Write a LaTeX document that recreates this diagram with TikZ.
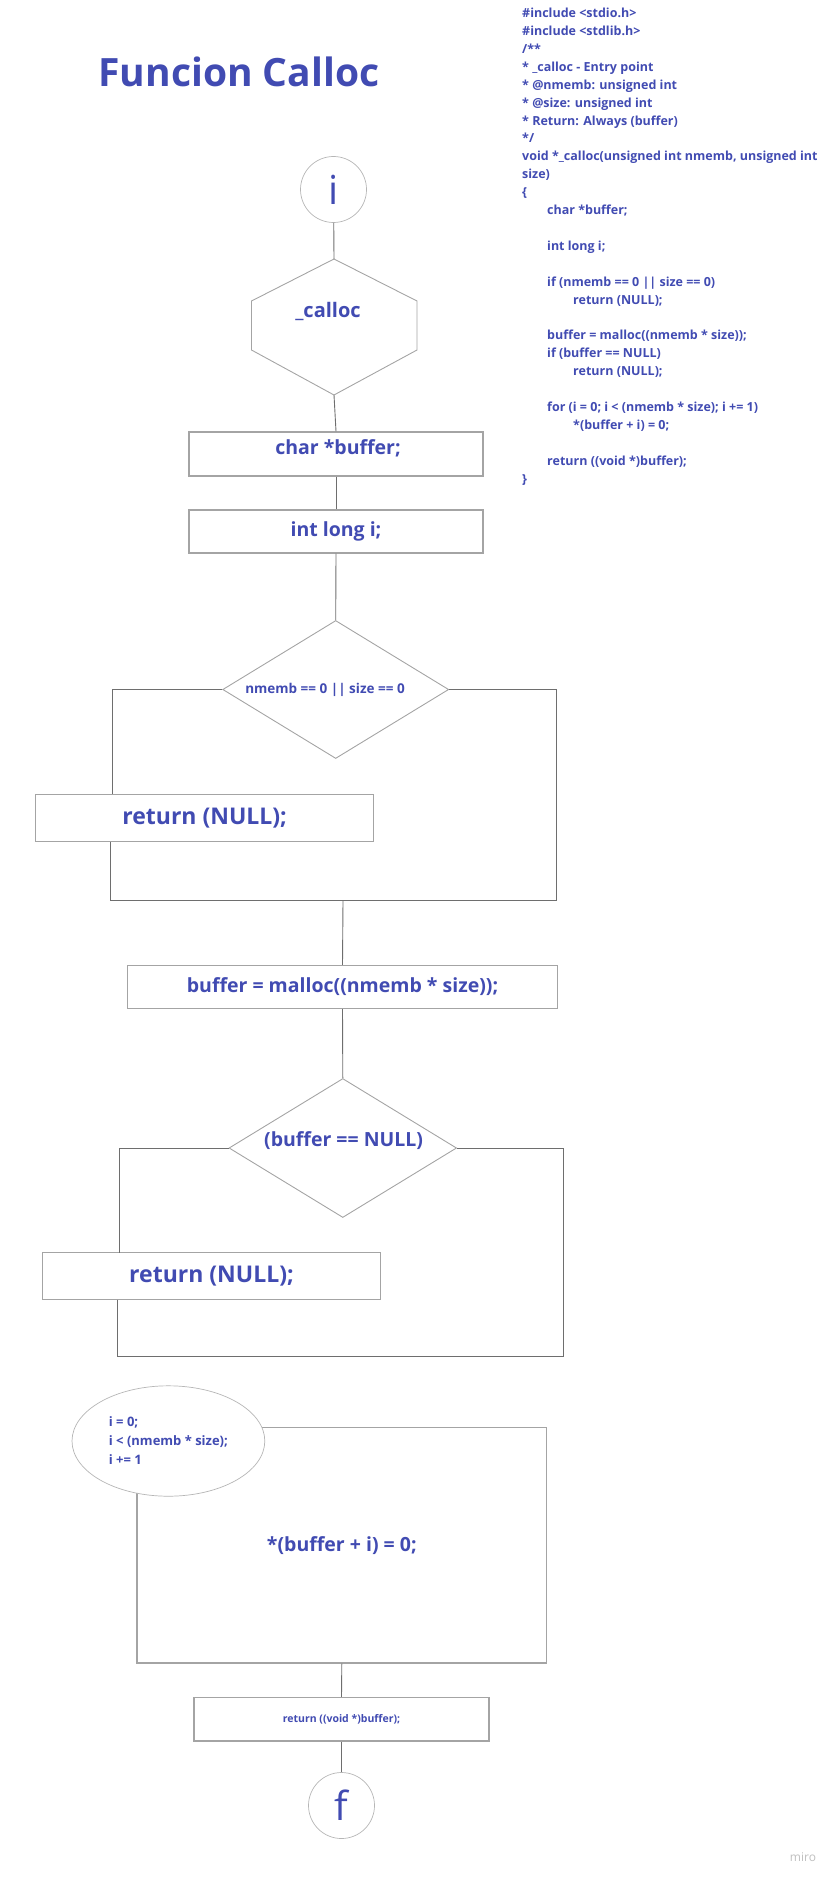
\documentclass[tikz,border=0pt]{standalone}
\usepackage{fontspec}
\setmainfont{Open Sans}
\usetikzlibrary{shapes.geometric}
\definecolor{ink}{HTML}{414BB2}
\definecolor{shapeline}{HTML}{A4A4A4}
\definecolor{conline}{HTML}{6E6E6E}
\tikzset{
  box/.style={draw=shapeline, line width=1.3pt, fill=white, inner sep=0pt},
  conn/.style={draw=conline, line width=0.9pt},
  txt/.style={text=ink, font=\bfseries, inner sep=0pt},
  codetxt/.style={text=ink, font=\bfseries\fontsize{12.5}{17.9}\selectfont, inner sep=0pt, anchor=north west, align=left},
  termin/.style={draw=shapeline!80, line width=0.7pt, circle, inner sep=0pt, minimum size=66pt, text=ink, font=\fontsize{40}{40}\selectfont},
  dia/.style={draw=shapeline, line width=0.9pt, diamond, inner sep=0pt},
}
\begin{document}
\begin{tikzpicture}[x=1pt,y=-1pt]
\useasboundingbox (0,0) rectangle (831,1878);
% title
\node[txt, font=\bfseries\fontsize{39}{39}\selectfont, anchor=base] (title) at (239,86.5) {Funcion Calloc};
% code listing
\node[codetxt] (code) at (522,8) {%
\#include <stdio.h>\\
\#include <stdlib.h>\\
/**\\
* \_calloc - Entry point\\
* @nmemb: unsigned int\\
* @size: unsigned int\\
* Return: Always (buffer)\\
*/\\
void *\_calloc(unsigned int nmemb, unsigned int\\
size)\\
\{\\
\hspace*{25pt}char *buffer;\\
\mbox{}\\
\hspace*{25pt}int long i;\\
\mbox{}\\
\hspace*{25pt}if (nmemb == 0 || size == 0)\\
\hspace*{51pt}return (NULL);\\
\mbox{}\\
\hspace*{25pt}buffer = malloc((nmemb * size));\\
\hspace*{25pt}if (buffer == NULL)\\
\hspace*{51pt}return (NULL);\\
\mbox{}\\
\hspace*{25pt}for (i = 0; i < (nmemb * size); i += 1)\\
\hspace*{51pt}*(buffer + i) = 0;\\
\mbox{}\\
\hspace*{25pt}return ((void *)buffer);\\
\}};
% start
\node[termin] (start) at (333.5,189.5) {i};
% hexagon
\coordinate (hexTop) at (334,259);
\coordinate (hexBot) at (334,395);
\draw[draw=shapeline, line width=0.9pt] (hexTop) -- (417,301) -- (417,350) -- (hexBot) -- (251.5,350) -- (251.5,301) -- cycle;
\node[txt, font=\bfseries\fontsize{20}{20}\selectfont] (hexT) at (328,311.5) {\_calloc};
% boxes
\node[box, minimum width=294, minimum height=44] (b1) at (336,454) {};
\node[txt, font=\bfseries\fontsize{19.5}{20}\selectfont] (b1t) at (338,448) {char *buffer;};
\node[box, minimum width=294, minimum height=43, txt, font=\bfseries\fontsize{19.5}{20}\selectfont] (b2) at (336,531.5) {int long i;};
% decision 1
\node[dia, minimum width=226, minimum height=138] (d1) at (335.7,689.5) {};
\node[txt, font=\bfseries\fontsize{13.5}{14}\selectfont] (d1t) at (325,689.7) {nmemb == 0 || size == 0};
\node[box, minimum width=338, minimum height=47.5, txt, font=\bfseries\fontsize{23}{24}\selectfont] (r1) at (204.6,818) {return (NULL);};
\coordinate (r1in) at (112,794.2);
\coordinate (r1out) at (110,841.8);
\coordinate (m1L) at (110,900.5);
\coordinate (m1R) at (556,900.5);
\coordinate (j1) at (343,900.5);
\draw[conn] (d1.west) -| (r1in);
\draw[conn] (r1out) -- (m1L) -- (m1R) |- (d1.east);
% malloc
\node[box, minimum width=430.5, minimum height=43, txt, font=\bfseries\fontsize{19.5}{20}\selectfont] (mal) at (342.5,987) {buffer = malloc((nmemb * size));};
\draw[conn] (j1) -- (mal.north);
% decision 2
\node[dia, minimum width=227.6, minimum height=139] (d2) at (342.8,1148) {};
\node[txt, font=\bfseries\fontsize{19.5}{20}\selectfont] (d2t) at (343.6,1140.4) {(buffer == NULL)};
\node[box, minimum width=338, minimum height=47, txt, font=\bfseries\fontsize{23}{24}\selectfont] (r2) at (211.5,1276) {return (NULL);};
\coordinate (r2in) at (119.5,1252.5);
\coordinate (r2out) at (117.2,1299.5);
\coordinate (m2L) at (117.2,1356.3);
\coordinate (m2R) at (563,1356.3);
\draw[conn] (d2.west) -| (r2in);
\draw[conn] (r2out) -- (m2L) -- (m2R) |- (d2.east);
% loop
\node[box, minimum width=409.6, minimum height=235.5, txt, font=\bfseries\fontsize{19.5}{20}\selectfont] (loop) at (341.8,1545.3) {*(buffer + i) = 0;};
\node[draw=shapeline!80, line width=0.7pt, ellipse, fill=white, inner sep=0pt, minimum width=192.8, minimum height=110.4, text=ink, font=\bfseries\fontsize{13}{19}\selectfont, align=left] (loopE) at (168.4,1441) {i = 0;\\i < (nmemb * size);\\i += 1};
% return
\node[box, minimum width=295, minimum height=43.5, txt, font=\bfseries\fontsize{10.5}{11}\selectfont] (ret) at (341.5,1719.3) {return ((void *)buffer);};
% end
\node[termin] (fin) at (341.5,1805.5) {f};
% connectors
\draw[conn] (start) -- (hexTop);
\draw[conn] (hexBot) -- (b1.north);
\draw[conn] (b1.south) -- (b2.north);
\draw[conn] (b2.south) -- (d1.north);
\draw[conn] (mal.south) -- (d2.north);
\draw[conn] (loop.south) -- (ret.north);
\draw[conn] (ret.south) -- (fin.north);
% watermark
\node[text=black!25, font=\fontsize{12}{12}\selectfont, inner sep=0pt] (miro) at (803,1857) {miro};
\end{tikzpicture}
\end{document}
